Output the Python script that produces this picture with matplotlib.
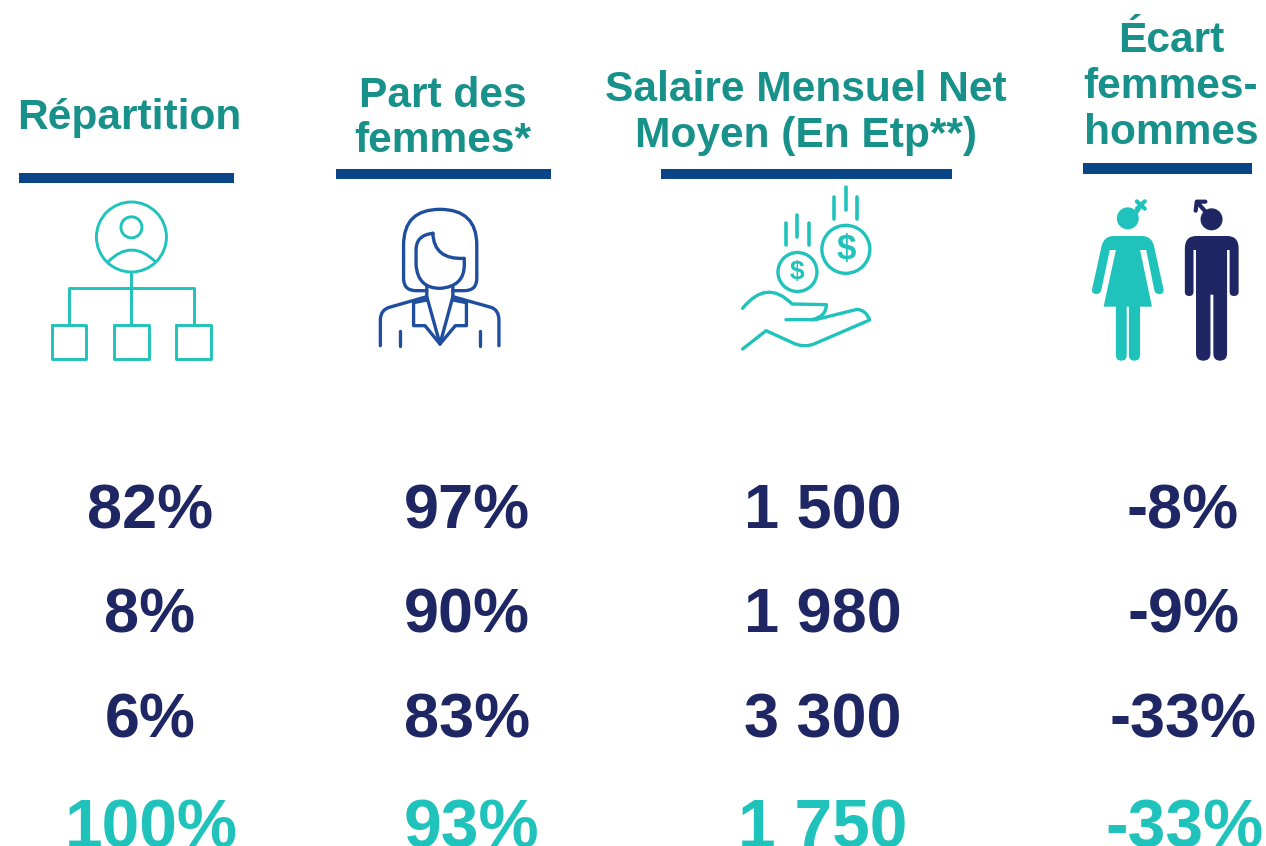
import matplotlib
matplotlib.use('Agg')
import matplotlib.pyplot as plt
from matplotlib.path import Path
from matplotlib.patches import PathPatch, Circle, Rectangle

# table content
headers = [['Répartition'], ['Part des', 'femmes*'], ['Salaire Mensuel Net', 'Moyen (En Etp**)'], ['Écart', 'femmes-', 'hommes']]
repartition = ['82%', '8%', '6%', '100%']
part_femmes = ['97%', '90%', '83%', '93%']
salaire = ['1 500', '1 980', '3 300', '1 750']
ecart = ['-8%', '-9%', '-33%', '-33%']

TEAL = '#20c3bb'
HEAD = '#17918a'
NAVY = '#1e2663'
BAR = '#0a4587'
BLUE = '#1f4e9e'

plt.rcParams['font.family'] = ['Liberation Sans', 'DejaVu Sans']

fig = plt.figure(figsize=(12.66, 8.46), dpi=100)
ax = fig.add_axes([0, 0, 1, 1])
ax.set_xlim(0, 1266)
ax.set_ylim(846, 0)
ax.axis('off')

# layout of the columns
head_x = [129, 443, 806, 1171]
head_y = [[118], [96, 141], [90, 136], [41, 87, 133]]
bars = [(19, 173, 215, 10), (336, 169, 215, 10), (661, 169, 291, 10), (1083, 163, 169, 11)]
val_x = [150, 467, 823, 1183]
total_x = [151, 471, 823, 1184]
row_y = [512, 616, 721, 830]


def px_a(x, y):
    return x / 2.8, 170 + y / 3


def px_b(x, y):
    return 700 + x / 2.77, 170 + y / 3


def shape(ops, conv, color, lw=2.1, fill=False):
    # ops: first point is a move, (x, y) is a line, (x1, y1, x, y) a quadratic curve
    verts, codes = [], []
    for i, op in enumerate(ops):
        if len(op) == 2:
            verts.append(conv(*op))
            codes.append(Path.MOVETO if i == 0 else Path.LINETO)
        else:
            verts += [conv(op[0], op[1]), conv(op[2], op[3])]
            codes += [Path.CURVE3, Path.CURVE3]
    ax.add_patch(PathPatch(Path(verts, codes), fc=color if fill else 'none', ec=color if not fill or lw else 'none',
                           lw=lw, capstyle='round', joinstyle='round'))


def ring(x, y, r, conv, color, lw=2.1, fill=False):
    cx, cy = conv(x, y)
    ax.add_patch(Circle((cx, cy), r, fc=color if fill else 'none', ec=color, lw=lw))


for col, lines in enumerate(headers):
    for line, y in zip(lines, head_y[col]):
        ax.text(head_x[col], y, line, color=HEAD, fontsize=30.6, fontweight='bold', ha='center', va='center')
for x, y, w, h in bars:
    ax.add_patch(Rectangle((x, y), w, h, fc=BAR, ec='none'))

for col, values in enumerate([repartition, part_femmes, salaire, ecart]):
    for row, val in enumerate(values):
        last = row == 3
        ax.text(total_x[col] if last else val_x[col], row_y[row], val, color=TEAL if last else NAVY,
                fontsize=48.8 if last else 45.4, fontweight='bold', ha='center', va='center')

# org chart icon
ring(368, 201, 35, px_a, TEAL)
ring(368, 172, 10.5, px_a, TEAL)
shape([(303, 275), (368, 205, 435, 275)], px_a, TEAL)
shape([(368, 308), (368, 462)], px_a, TEAL)
shape([(194, 462), (194, 355), (542, 355), (542, 462)], px_a, TEAL)
for left in [146, 320, 494]:
    shape([(left, 464), (left + 96, 464), (left + 96, 568), (left, 568), (left, 464)], px_a, TEAL)

# woman icon
shape([(1195, 362), (1165, 362), (1130, 362, 1130, 325), (1130, 225), (1130, 118, 1232, 118),
       (1335, 118, 1335, 225), (1335, 325), (1335, 362, 1300, 362), (1268, 362)], px_a, BLUE, lw=2.4)
shape([(1212, 190), (1165, 195, 1165, 240), (1165, 285), (1170, 355, 1232, 355), (1300, 350, 1300, 285),
       (1300, 265), (1215, 270, 1212, 190)], px_a, BLUE, lw=2.4)
shape([(1195, 350), (1195, 380), (1232, 522), (1268, 380), (1268, 350)], px_a, BLUE, lw=2.4)
shape([(1195, 380), (1090, 412), (1065, 420, 1065, 450), (1065, 527)], px_a, BLUE, lw=2.4)
shape([(1268, 380), (1375, 412), (1397, 420, 1397, 450), (1397, 527)], px_a, BLUE, lw=2.4)
shape([(1195, 390), (1158, 398), (1158, 467), (1190, 467), (1232, 522), (1275, 467), (1306, 467), (1306, 398), (1268, 390)],
      px_a, BLUE, lw=2.4)
shape([(1120, 482), (1120, 527)], px_a, BLUE, lw=2.4)
shape([(1343, 482), (1343, 527)], px_a, BLUE, lw=2.4)

# coins and hand icon
ring(270, 306, 19.5, px_b, TEAL, lw=2.4)
ring(404, 238, 24, px_b, TEAL, lw=2.4)
cx, cy = px_b(270, 306)
ax.text(cx, cy, '$', color=TEAL, fontsize=19, fontweight='bold', ha='center', va='center')
cx, cy = px_b(404, 238)
ax.text(cx, cy, '$', color=TEAL, fontsize=25, fontweight='bold', ha='center', va='center')
for x, top, bottom in [(238, 160, 226), (269, 135, 200), (301, 160, 226), (372, 80, 146), (404, 52, 120), (436, 80, 146)]:
    shape([(x, top), (x, bottom)], px_b, TEAL, lw=2.6)
shape([(118, 415), (185, 325, 255, 402), (350, 404), (350, 440, 310, 449), (238, 449)], px_b, TEAL, lw=2.4)
shape([(310, 449), (320, 449), (435, 418), (460, 420, 470, 450), (320, 520), (290, 535, 260, 520), (183, 482), (118, 537)],
      px_b, TEAL, lw=2.4)

# man and woman icon
ring(1185, 145, 11, px_b, TEAL, lw=0, fill=True)
shape([(1210, 125), (1222, 105)], px_b, TEAL, lw=3)
shape([(1210, 94), (1232, 116)], px_b, TEAL, lw=3)
shape([(1232, 94), (1210, 116)], px_b, TEAL, lw=3)
shape([(1145, 198), (1225, 198), (1252, 198, 1258, 230), (1284, 358), (1286, 372, 1272, 372), (1260, 372, 1258, 358),
       (1236, 240), (1219, 240), (1252, 410), (1219, 410), (1219, 555), (1219, 572, 1203, 572), (1188, 572, 1188, 555),
       (1188, 410), (1182, 410), (1182, 555), (1182, 572, 1167, 572), (1152, 572, 1152, 555), (1152, 410), (1118, 410),
       (1152, 240), (1135, 240), (1112, 358), (1110, 372, 1098, 372), (1084, 372, 1086, 358), (1112, 230), (1118, 198, 1145, 198)],
      px_b, TEAL, lw=0, fill=True)

ring(1417, 148, 11, px_b, NAVY, lw=0, fill=True)
shape([(1398, 122), (1378, 98)], px_b, NAVY, lw=3)
shape([(1373, 122), (1376, 95), (1400, 95)], px_b, NAVY, lw=3)
shape([(1375, 198), (1460, 198), (1492, 198, 1492, 235), (1492, 365), (1492, 378, 1479, 378), (1467, 378, 1467, 365),
       (1467, 240), (1460, 240), (1460, 550), (1460, 572, 1440, 572), (1422, 572, 1422, 550), (1422, 374), (1414, 374),
       (1414, 550), (1414, 572, 1394, 572), (1374, 572, 1374, 550), (1374, 240), (1367, 240), (1367, 365),
       (1367, 378, 1355, 378), (1343, 378, 1343, 365), (1343, 235), (1343, 198, 1375, 198)],
      px_b, NAVY, lw=0, fill=True)

fig.savefig('out.png', dpi=100)
